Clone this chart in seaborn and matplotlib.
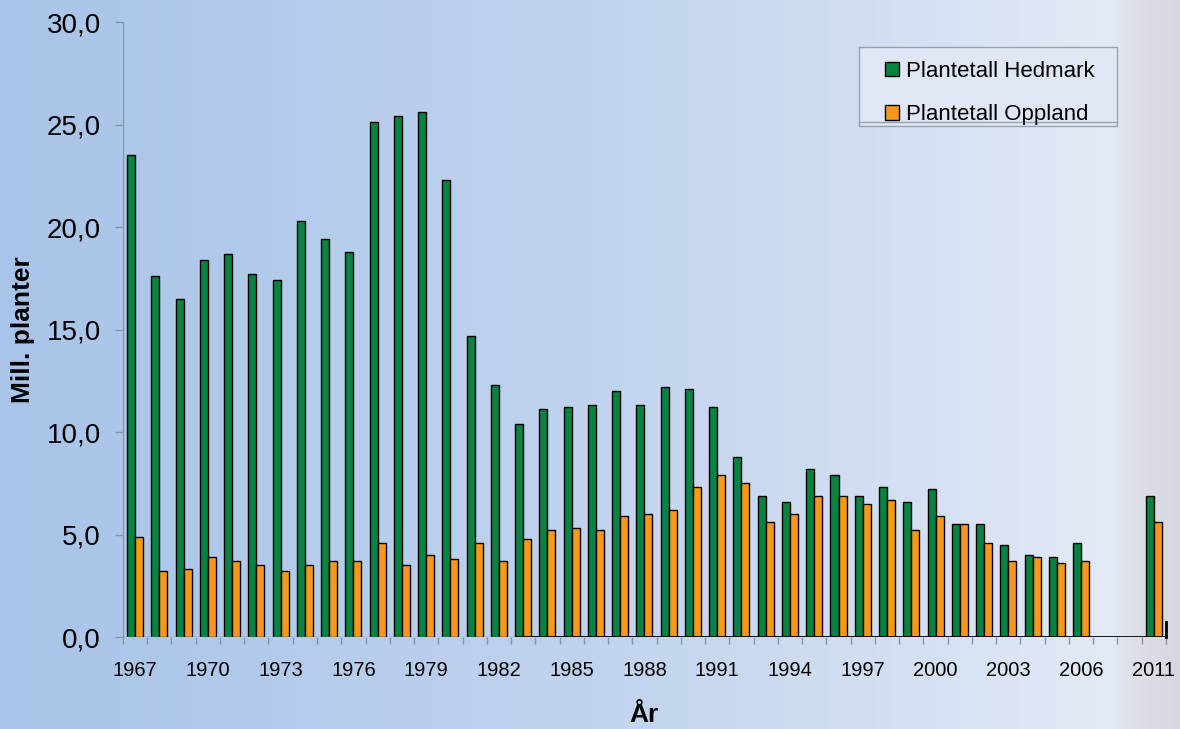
import numpy as np
import pandas as pd
import matplotlib
matplotlib.use('Agg')
import matplotlib.pyplot as plt
from matplotlib.patches import Rectangle
import seaborn as sns

plt.rcParams['font.family'] = ['Liberation Sans', 'DejaVu Sans']

# Categories on the x axis (2009 and 2010 stand empty in the source chart)
years = [str(y) for y in range(1967, 2007)] + ['2009', '2010', '2011']
data_years = [str(y) for y in range(1967, 2007)] + ['2011']

# Million plants per year
hedmark = [23.5, 17.6, 16.5, 18.4, 18.7, 17.7, 17.4, 20.3, 19.4, 18.8,
           25.1, 25.4, 25.6, 22.3, 14.7, 12.3, 10.4, 11.1, 11.2, 11.3,
           12.0, 11.3, 12.2, 12.1, 11.2, 8.8, 6.9, 6.6, 8.2, 7.9,
           6.9, 7.3, 6.6, 7.2, 5.5, 5.5, 4.5, 4.0, 3.9, 4.6,
           6.9]
oppland = [4.9, 3.2, 3.3, 3.9, 3.7, 3.5, 3.2, 3.5, 3.7, 3.7,
           4.6, 3.5, 4.0, 3.8, 4.6, 3.7, 4.8, 5.2, 5.3, 5.2,
           5.9, 6.0, 6.2, 7.3, 7.9, 7.5, 5.6, 6.0, 6.9, 6.9,
           6.5, 6.7, 5.2, 5.9, 5.5, 4.6, 3.7, 3.9, 3.6, 3.7,
           5.6]
series = ['Plantetall Hedmark', 'Plantetall Oppland']
colors = ['#0a8242', '#f7981d']
yticks = [0, 5, 10, 15, 20, 25, 30]

df = pd.concat([
    pd.DataFrame({'year': data_years, 'value': hedmark, 'fylke': series[0]}),
    pd.DataFrame({'year': data_years, 'value': oppland, 'fylke': series[1]}),
])

fig = plt.figure(figsize=(11.8, 7.29), dpi=100)

# background gradient
bg = fig.add_axes([0, 0, 1, 1], zorder=0)
bg.axis('off')
stops = [0.0, 0.5, 0.85, 0.94, 0.958, 1.0]
cols = np.array([[168, 196, 232], [192, 211, 238], [218, 228, 244],
                 [228, 234, 247], [222, 225, 232], [212, 215, 221]]) / 255
xs = np.linspace(0, 1, 1180)
grad = np.stack([np.interp(xs, stops, cols[:, i]) for i in range(3)], axis=-1)
bg.imshow(grad[np.newaxis, :, :], aspect='auto', extent=[0, 1, 0, 1])

ax = fig.add_axes([0.1042, 0.1262, 0.8839, 0.8436], zorder=1)
ax.patch.set_alpha(0)

sns.barplot(data=df, x='year', y='value', hue='fylke', order=years,
            hue_order=series, palette=colors, width=0.66, errorbar=None,
            saturation=1, edgecolor='black', linewidth=1, ax=ax)

n = len(years)
ax.set_xlim(-0.5, n - 0.5)
ax.set_ylim(0, 30)
ax.set_yticks(yticks)
ax.set_yticklabels([f'{v:.1f}'.replace('.', ',') for v in yticks])
ax.set_xticks(np.arange(0, n, 3))
ax.set_xticklabels(years[::3])
ax.set_xticks(np.arange(-0.5, n, 1), minor=True)
ax.tick_params(axis='x', which='major', length=0, pad=17, labelsize=14.5)
ax.tick_params(axis='x', which='minor', length=5, color='#8494a6', width=1)
ax.tick_params(axis='y', length=6, color='#8494a6', width=1, pad=10, labelsize=20)

for s in ['top', 'right', 'bottom']:
    ax.spines[s].set_visible(False)
ax.spines['left'].set_color('#8494a6')
ax.axhline(0, xmin=0, xmax=0.378, color='#8494a6', lw=1)
ax.axhline(0, xmin=0.378, xmax=1, color='black', lw=2)
ax.plot([1, 1], [0, 0.025], transform=ax.transAxes, color='black', lw=2, clip_on=False)

ax.set_ylabel('Mill. planter', fontsize=19, fontweight='bold', labelpad=8)
ax.set_xlabel('År', fontsize=19, fontweight='bold', labelpad=17)

# legend box
ax.add_patch(Rectangle((0.7057, 0.8309), 0.2474, 0.1285, transform=ax.transAxes,
                       facecolor='#dfe7f4', edgecolor='#98a2ae', lw=1, zorder=5))
ax.plot([0.7057, 0.9531], [0.8374, 0.8374], transform=ax.transAxes,
        color='#98a2ae', lw=1, zorder=6)
handles, labels = ax.get_legend_handles_labels()
leg = ax.legend(handles, labels, loc='upper left', bbox_to_anchor=(0.7305, 0.937),
                frameon=False, fontsize=16, handlelength=0.65, handleheight=0.65,
                labelspacing=1.0, borderpad=0, borderaxespad=0, handletextpad=0.3)
leg.set_zorder(7)

fig.savefig('out.png', dpi=100)
